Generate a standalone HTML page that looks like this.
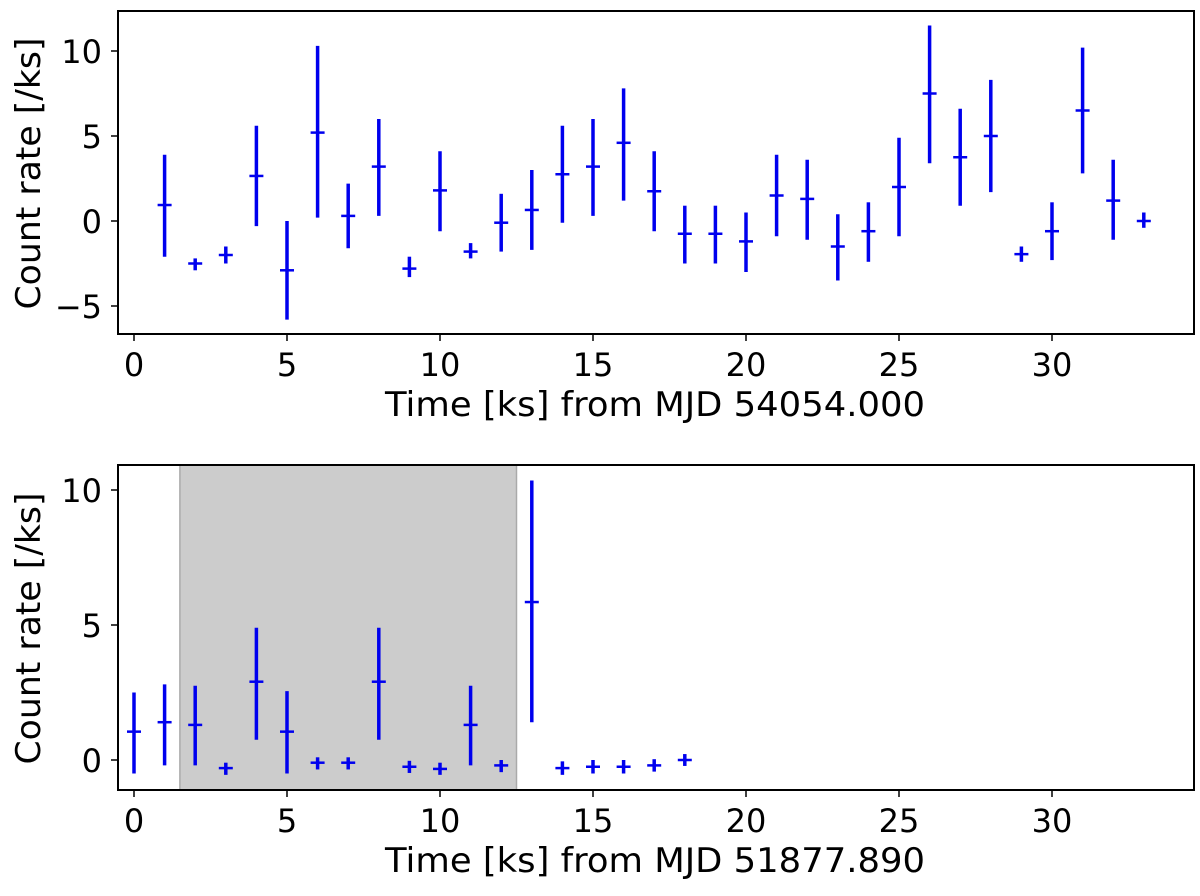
<!DOCTYPE html>
<html><head><meta charset="utf-8"><style>
body{margin:0;background:#fff}
svg text{font-family:"DejaVu Sans","Liberation Sans",sans-serif;fill:#000}
</style></head><body>
<svg id="c" width="1200" height="891" xmlns="http://www.w3.org/2000/svg"></svg>
<script>
const topX=[1,2,3,4,5,6,7,8,9,10,11,12,13,14,15,16,17,18,19,20,21,22,23,24,25,26,27,28,29,30,31,32,33];
const topY=[0.94,-2.5,-2.0,2.65,-2.9,5.2,0.3,3.2,-2.8,1.8,-1.8,-0.1,0.65,2.75,3.2,4.6,1.75,-0.75,-0.75,-1.2,1.5,1.3,-1.5,-0.6,2.0,7.5,3.75,5.0,-1.95,-0.6,6.5,1.2,0.0];
const topHi=[3.9,-2.2,-1.5,5.6,0.0,10.3,2.2,6.0,-2.1,4.1,-1.3,1.6,3.0,5.6,6.0,7.8,4.1,0.9,0.9,0.5,3.9,3.6,0.4,1.1,4.9,11.5,6.6,8.3,-1.5,1.1,10.2,3.6,0.5];
const topLo=[-2.1,-2.9,-2.5,-0.3,-5.8,0.2,-1.6,0.3,-3.3,-0.6,-2.2,-1.8,-1.7,-0.1,0.3,1.2,-0.6,-2.5,-2.5,-3.0,-0.9,-1.1,-3.5,-2.4,-0.9,3.4,0.9,1.7,-2.4,-2.3,2.8,-1.1,-0.4];
const botX=[0,1,2,3,4,5,6,7,8,9,10,11,12,13,14,15,16,17,18];
const botY=[1.05,1.4,1.3,-0.3,2.9,1.05,-0.1,-0.1,2.9,-0.25,-0.33,1.3,-0.2,5.85,-0.3,-0.25,-0.25,-0.2,0.0];
const botHi=[2.5,2.8,2.75,-0.1,4.9,2.55,0.1,0.1,4.9,-0.03,-0.1,2.75,0.0,10.35,-0.05,0.0,0.0,0.03,0.22];
const botLo=[-0.5,-0.2,-0.2,-0.55,0.75,-0.5,-0.35,-0.35,0.75,-0.48,-0.55,-0.2,-0.45,1.4,-0.55,-0.5,-0.5,-0.43,-0.22];
const xTicks=[0,5,10,15,20,25,30];
const topYTicks=[-5,0,5,10];
const botYTicks=[0,5,10];
const shade=[1.5,12.5];
const NS="http://www.w3.org/2000/svg";
const svg=document.getElementById('c');
function mk(t,a,p){const e=document.createElementNS(NS,t);for(const k in a)e.setAttribute(k,a[k]);(p||svg).appendChild(e);return e;}
function panel(name,top,bot,y0,yPerUnit,yTicks,X,Y,Hi,Lo,label,sh){
  const L=118,R=1194;
  const sx=v=>134+v*30.6;
  const sy=v=>y0-v*yPerUnit;
  const g=mk('g',{});
  
  
  if(sh){const r=mk('rect',{x:sx(sh[0]),y:top,width:sx(sh[1])-sx(sh[0]),height:bot-top,fill:'#cccccc',stroke:'#aaaaaa','stroke-width':1.5},g);
    }
  for(let i=0;i<X.length;i++){
    const e=mk('g',{stroke:'#0000ee','stroke-width':3.5},g);
    
    
    const x=sx(X[i]);
    mk('line',{x1:x,x2:x,y1:sy(Hi[i]),y2:sy(Lo[i])},e);
    mk('line',{x1:x-7,x2:x+7,y1:sy(Y[i]),y2:sy(Y[i]),'stroke-width':2.5},e);
  }
  const fr=mk('rect',{x:L,y:top,width:R-L,height:bot-top,fill:'none',stroke:'#000','stroke-width':2},g);
  
  xTicks.forEach(t=>{const x=sx(t);mk('line',{x1:x,x2:x,y1:bot,y2:bot+7,stroke:'#000','stroke-width':1.5},g);
    const tx=mk('text',{x:x,y:bot+42,'font-size':32,'text-anchor':'middle'},g);tx.textContent=t;
    });
  yTicks.forEach(t=>{const y=sy(t);mk('line',{x1:L,x2:L-7,y1:y,y2:y,stroke:'#000','stroke-width':1.5},g);
    const tx=mk('text',{x:L-16,y:y+12,'font-size':32,'text-anchor':'end'},g);tx.textContent=t<0?'\u2212'+(-t):t;
    });
  const xl=mk('text',{x:655,y:bot+82,'font-size':34,'text-anchor':'middle',textLength:540,lengthAdjust:'spacingAndGlyphs'},g);xl.textContent=label;
  
  const cy=(top+bot)/2+1;
  const yl=mk('text',{x:0,y:0,'font-size':34,'text-anchor':'middle',textLength:272,lengthAdjust:'spacingAndGlyphs',transform:`translate(40,${cy}) rotate(-90)`},g);yl.textContent='Count rate [/ks]';
  
}
panel('top-panel',11,334,221,17,topYTicks,topX,topY,topHi,topLo,'Time [ks] from MJD 54054.000',null);
panel('bottom-panel',465,790,760,27,botYTicks,botX,botY,botHi,botLo,'Time [ks] from MJD 51877.890',shade);
</script>
</body></html>
